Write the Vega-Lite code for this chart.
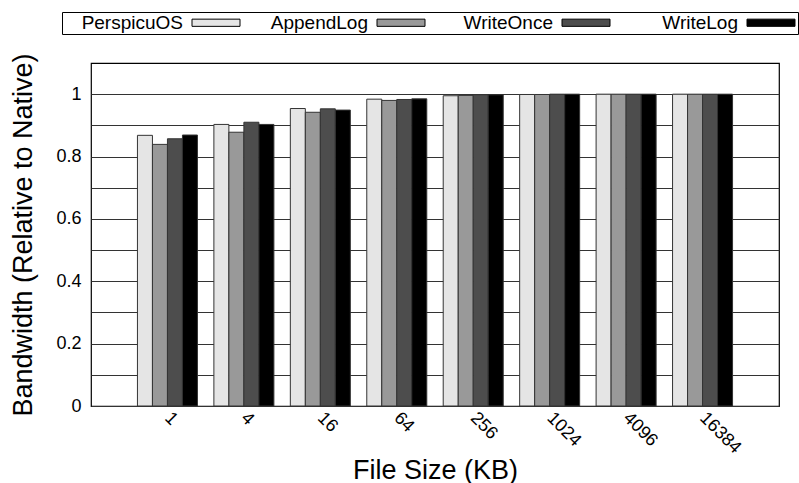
{
  "$schema": "https://vega.github.io/schema/vega-lite/v6.json",
  "width": 688,
  "height": 343,
  "autosize": {"type": "none"},
  "padding": {"left": 91, "top": 63, "right": 20, "bottom": 77},
  "background": "white",
  "config": {
    "font": "Liberation Sans",
    "view": {"stroke": "black", "strokeWidth": 1.2},
    "axis": {"labelColor": "black", "titleColor": "black", "titleFontWeight": "normal"}
  },
  "data": {
    "values": [
      {"size": "1", "system": "PerspicuOS", "value": 0.868},
      {"size": "1", "system": "AppendLog", "value": 0.839},
      {"size": "1", "system": "WriteOnce", "value": 0.857},
      {"size": "1", "system": "WriteLog", "value": 0.869},
      {"size": "4", "system": "PerspicuOS", "value": 0.903},
      {"size": "4", "system": "AppendLog", "value": 0.878},
      {"size": "4", "system": "WriteOnce", "value": 0.910},
      {"size": "4", "system": "WriteLog", "value": 0.903},
      {"size": "16", "system": "PerspicuOS", "value": 0.954},
      {"size": "16", "system": "AppendLog", "value": 0.942},
      {"size": "16", "system": "WriteOnce", "value": 0.953},
      {"size": "16", "system": "WriteLog", "value": 0.949},
      {"size": "64", "system": "PerspicuOS", "value": 0.984},
      {"size": "64", "system": "AppendLog", "value": 0.980},
      {"size": "64", "system": "WriteOnce", "value": 0.983},
      {"size": "64", "system": "WriteLog", "value": 0.985},
      {"size": "256", "system": "PerspicuOS", "value": 0.995},
      {"size": "256", "system": "AppendLog", "value": 0.996},
      {"size": "256", "system": "WriteOnce", "value": 0.998},
      {"size": "256", "system": "WriteLog", "value": 0.998},
      {"size": "1024", "system": "PerspicuOS", "value": 0.999},
      {"size": "1024", "system": "AppendLog", "value": 0.999},
      {"size": "1024", "system": "WriteOnce", "value": 1.0},
      {"size": "1024", "system": "WriteLog", "value": 1.0},
      {"size": "4096", "system": "PerspicuOS", "value": 1.0},
      {"size": "4096", "system": "AppendLog", "value": 1.0},
      {"size": "4096", "system": "WriteOnce", "value": 1.0},
      {"size": "4096", "system": "WriteLog", "value": 1.0},
      {"size": "16384", "system": "PerspicuOS", "value": 1.0},
      {"size": "16384", "system": "AppendLog", "value": 1.0},
      {"size": "16384", "system": "WriteOnce", "value": 1.0},
      {"size": "16384", "system": "WriteLog", "value": 1.0}
    ]
  },
  "mark": {"type": "bar", "stroke": "#333333", "strokeWidth": 1},
  "encoding": {
    "x": {
      "field": "size",
      "type": "nominal",
      "sort": ["1", "4", "16", "64", "256", "1024", "4096", "16384"],
      "scale": {"paddingInner": 0.215, "paddingOuter": 0.6075},
      "axis": {
        "title": "File Size (KB)",
        "titleFontSize": 27,
        "titleX": 344,
        "titleY": 72,
        "titleBaseline": "alphabetic",
        "titleAlign": "center",
        "labelAngle": 45,
        "labelAlign": "left",
        "labelBaseline": "middle",
        "labelFontSize": 18,
        "labelPadding": 9,
        "ticks": false,
        "domain": false,
        "grid": false
      }
    },
    "xOffset": {
      "field": "system",
      "sort": ["PerspicuOS", "AppendLog", "WriteOnce", "WriteLog"],
      "scale": {"paddingInner": 0, "paddingOuter": 0}
    },
    "y": {
      "field": "value",
      "type": "quantitative",
      "scale": {"domain": [0, 1.1], "nice": false},
      "axis": {
        "title": "Bandwidth (Relative to Native)",
        "titleFontSize": 27,
        "titleX": -60,
        "titleY": 171.5,
        "titleBaseline": "alphabetic",
        "titleAlign": "center",
        "titleAngle": 270,
        "values": [0, 0.1, 0.2, 0.3, 0.4, 0.5, 0.6, 0.7, 0.8, 0.9, 1.0],
        "format": "~g",
        "labelExpr": "round(datum.value * 10) % 2 == 0 ? datum.label : ''",
        "labelFontSize": 18,
        "labelPadding": 10,
        "ticks": false,
        "domain": false,
        "grid": true,
        "gridColor": "#333333",
        "gridWidth": 1,
        "gridOpacity": 1
      }
    },
    "fill": {
      "field": "system",
      "type": "nominal",
      "scale": {
        "domain": ["PerspicuOS", "AppendLog", "WriteOnce", "WriteLog"],
        "range": ["#e5e5e5", "#999999", "#4d4d4d", "#000000"]
      },
      "legend": {
        "title": null,
        "orient": "none",
        "direction": "horizontal",
        "legendX": -29,
        "legendY": -51,
        "padding": 1,
        "strokeColor": "black",
        "symbolType": "M-8,-1.2H8V1.2H-8Z",
        "symbolSize": 36,
        "symbolStrokeColor": "black",
        "symbolStrokeWidth": 1,
        "symbolOpacity": 1,
        "labelFontSize": 19,
        "labelColor": "black",
        "gridAlign": "all",
        "columnPadding": 6,
        "encode": {
          "labels": {"update": {"x": {"value": 120}, "align": {"value": "right"}}},
          "symbols": {"update": {"x": {"value": 153}}}
        }
      }
    }
  }
}
